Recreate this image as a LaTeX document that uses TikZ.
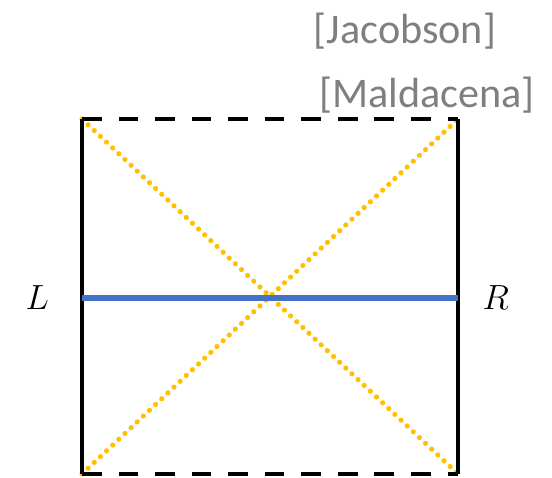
\documentclass[tikz,border=0pt]{standalone}
\usepackage{fontspec}
\newfontfamily\refsfont{Carlito}
\usepackage{tikz}
\usetikzlibrary{positioning, calc}
\usepackage{xcolor}
\definecolor{refgray}{HTML}{7F7F7F}
\definecolor{horizonorange}{HTML}{FFC000}
\definecolor{sliceblue}{HTML}{4472C4}

\begin{document}
\begin{tikzpicture}[x=0.025cm, y=0.025cm,
    boundary/.style={black, line width=3.3pt},
    singular/.style={black, line width=3.3pt, dash pattern=on 14pt off 12pt},
    horizon/.style={horizonorange, line width=3.7pt, line cap=round, dash pattern=on 0pt off 6pt},
    slice/.style={sliceblue, line width=3.6pt},
    sidelabel/.style={font=\fontsize{32}{38}\selectfont},
    reflabel/.style={font=\refsfont\fontsize{30}{36}\selectfont, text=refgray}]
  \useasboundingbox (0,0) rectangle (552,478);
  % corners of the diagram
  \coordinate (tl) at (82,359);
  \coordinate (tr) at (458,359);
  \coordinate (bl) at (82,4);
  \coordinate (br) at (458,4);
  \coordinate (ml) at (82,180);
  \coordinate (mr) at (458,180);
  % horizons
  \draw[horizon] (tl) -- (br);
  \draw[horizon] (bl) -- (tr);
  % boundaries
  \draw[boundary] (tl) -- (bl);
  \draw[boundary] (tr) -- (br);
  \draw[singular] (tl) -- (tr);
  \draw[singular] (bl) -- (br);
  % time slice
  \draw[slice] (ml) -- (mr);
  \node[sidelabel, left=20pt of ml] (L) {$L$};
  \node[sidelabel, right=14pt of mr] (R) {$R$};
  \node[reflabel] (jac) at (405,447) {[Jacobson]};
  \node[reflabel] (mal) at (427,383) {[Maldacena]};
\end{tikzpicture}
\end{document}
